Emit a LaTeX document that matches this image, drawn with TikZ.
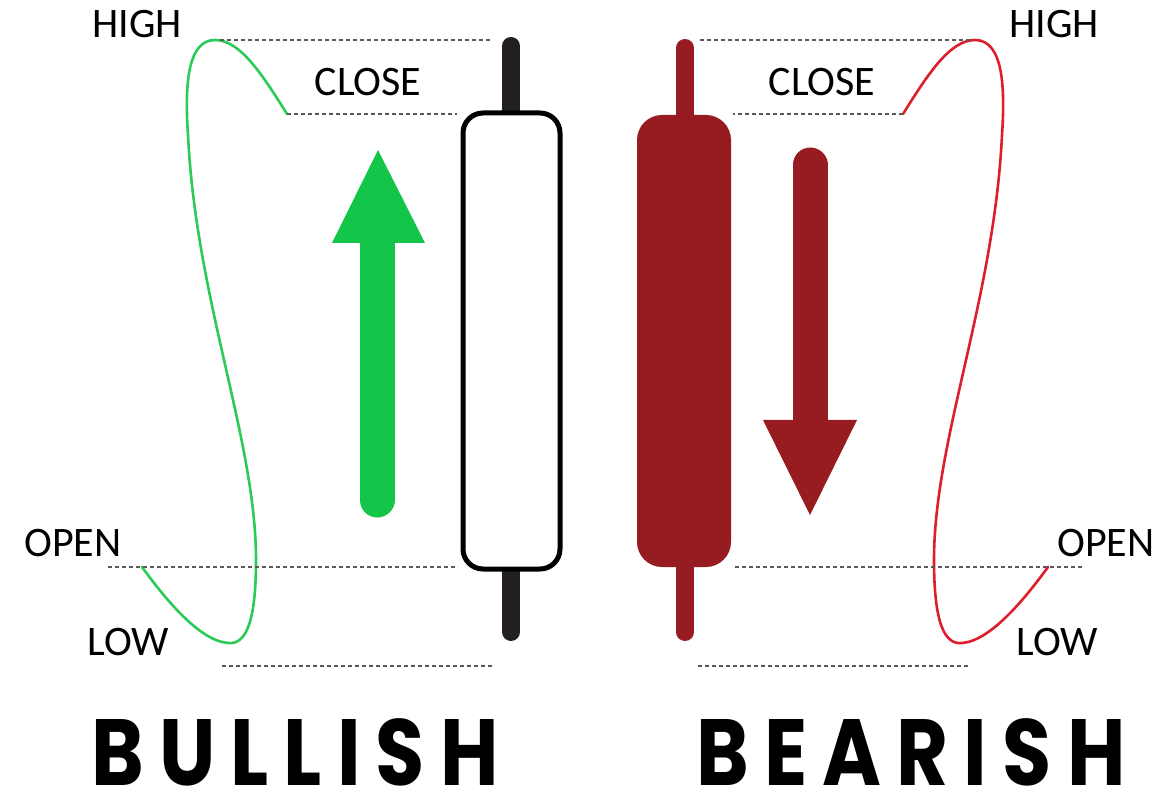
\documentclass[tikz,border=0pt]{standalone}
\usepackage{fontspec}
\setmainfont{Carlito}
\newfontfamily\titlefont{Poppins}[LetterSpace=19]
\definecolor{stoppino}{HTML}{231F20}
\definecolor{rossoscuro}{HTML}{961C21}
\definecolor{verdefreccia}{HTML}{13C64A}
\definecolor{verdelinea}{HTML}{2BCB58}
\definecolor{rossolinea}{HTML}{DC1F2B}
\begin{document}
\begin{tikzpicture}[x=1pt,y=-1pt,
		guida/.style={line width=1.2pt, color=black!65, dash pattern=on 4pt off 3pt},
		traccia/.style={line width=2.6pt, line cap=round},
		etichetta/.style={font=\fontsize{42}{42}\selectfont, inner sep=0pt},
		titolo/.style={font=\titlefont\bfseries\fontsize{94}{94}\selectfont, inner sep=0pt, xscale=0.85},
		]
	\useasboundingbox (0,0) rectangle (1165,799);
	% -- traccia del prezzo e linee guida (lato sinistro, poi speculare) --
	\def\lato#1{%
		\draw[traccia, #1] (287,114) .. controls (262,74) and (240,40) .. (215,40)
			.. controls (186,40) and (185,90) .. (188,135)
			.. controls (196,300) and (256,440) .. (256,560)
			.. controls (256,622) and (246,645) .. (228,643)
			.. controls (200,641) and (166,600) .. (142,567);
		\draw[guida] (220,40) -- (492,40);      % massimo
		\draw[guida] (287,114) -- (457,114);    % chiusura
		\draw[guida] (108,567) -- (455,567);    % apertura
		\draw[guida] (222,666) -- (492,666);}   % minimo
	
	% ===================== candela rialzista =====================
	\lato{verdelinea}
	\draw[stoppino, line width=18pt, line cap=round] (511,46) -- (511,632);
	\draw[line width=5pt, fill=white, rounded corners=20pt] (463,113) rectangle (560,569);
	\draw[verdefreccia, line width=35pt, line cap=round] (377,500) -- (377,240);
	\fill[verdefreccia] (332,243) -- (425,243) -- (378,150) -- cycle;
	\node[etichetta] (altoA)   at (137,24)  {HIGH};
	\node[etichetta] (chiusoA) at (368,82)  {CLOSE};
	\node[etichetta] (apertoA) at (73,543)  {OPEN};
	\node[etichetta] (bassoA)  at (128,642) {LOW};
	\node[titolo] (rialzo) at (295,752) {BULLISH};
	
	% ===================== candela ribassista =====================
	\begin{scope}[xshift=1190pt, xscale=-1]
		\lato{rossolinea}
	\end{scope}
	\draw[rossoscuro, line width=18pt, line cap=round] (685,48) -- (685,632);
	\fill[rossoscuro, rounded corners=25pt] (637,115) rectangle (731,567);
	\draw[rossoscuro, line width=35pt, line cap=round] (810,165) -- (810,430);
	\fill[rossoscuro] (763,420) -- (857,420) -- (810,515) -- cycle;
	\node[etichetta] (altoB)   at (1054,24)  {HIGH};
	\node[etichetta] (chiusoB) at (822,82)   {CLOSE};
	\node[etichetta] (apertoB) at (1106,543) {OPEN};
	\node[etichetta] (bassoB)  at (1057,642) {LOW};
	\node[titolo] (ribasso) at (911,752) {BEARISH};
\end{tikzpicture}
\end{document}
